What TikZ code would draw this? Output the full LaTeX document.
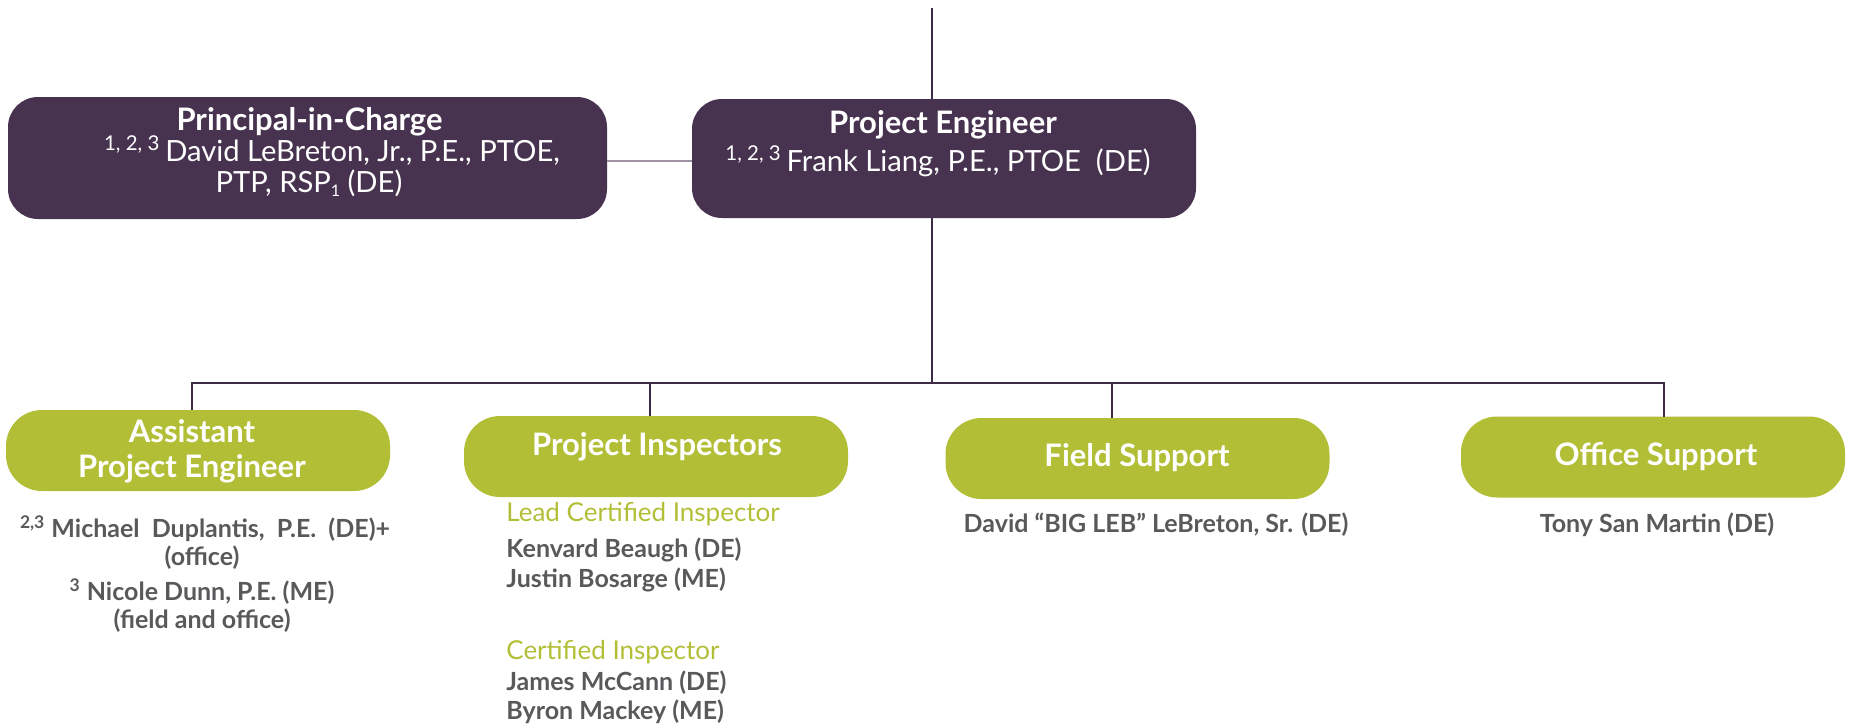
\documentclass[tikz,border=0pt]{standalone}
\usepackage{fontspec}
\setmainfont{Lato}
\usetikzlibrary{calc}

\definecolor{plum}{HTML}{47334F}
\definecolor{wirecol}{HTML}{3E2C46}
\definecolor{linkcol}{HTML}{9E92A4}
\definecolor{leaf}{HTML}{B2BF36}
\definecolor{ink}{HTML}{58595B}

\tikzset{
  headbox/.style={fill=plum, rounded corners=15pt, inner sep=0pt},
  rolebox/.style={fill=leaf, rounded corners=18pt, inner sep=0pt,
    minimum width=192pt, minimum height=40.5pt},
  boxtitle/.style={text=white, anchor=base, inner sep=0pt,
    font=\fontsize{15.5}{18}\selectfont\bfseries},
  boxname/.style={text=white, anchor=base, inner sep=0pt,
    font=\fontsize{14.6}{17}\selectfont},
  staff/.style={text=ink, anchor=base, inner sep=0pt,
    font=\fontsize{12.5}{15}\selectfont\bfseries},
  grade/.style={text=leaf, anchor=base west, inner sep=0pt,
    font=\fontsize{13}{15}\selectfont},
  wire/.style={wirecol, line width=1pt},
}

\begin{document}
\begin{tikzpicture}[x=0.5pt, y=-0.5pt]
\useasboundingbox (0,0) rectangle (1849,728);

% top level boxes
\node[headbox, minimum width=299.5pt, minimum height=61pt] (pic) at (307.5,158) {};
\node[headbox, minimum width=252pt, minimum height=59.5pt] (pe) at (944,158.5) {};

\node[boxtitle] (pic-t) at (309.5,130) {Principal-in-Charge};
\node[boxname] (pic-n1) at (332,161) {\textsuperscript{1, 2, 3}\,David LeBreton, Jr., P.E., PTOE,};
\node[boxname] (pic-n2) at (309,192) {PTP, RSP{\fontsize{8}{9}\selectfont\raisebox{-2pt}{1}} (DE)};

\node[boxtitle] (pe-t) at (943,133) {Project Engineer};
\node[boxname] (pe-n) at (938,171) {\textsuperscript{1, 2, 3}\,Frank Liang, P.E., PTOE\ \ (DE)};

% second level boxes
\node[rolebox] (ape) at (198,450.5) {};
\node[rolebox] (pi) at (656,456.5) {};
\node[rolebox] (fs) at (1137.5,458.5) {};
\node[rolebox] (os) at (1653,457) {};

\node[boxtitle] (ape-t1) at (192,442) {Assistant};
\node[boxtitle] (ape-t2) at (192,477) {Project Engineer};
\node[boxtitle] (pi-t) at (657,455) {Project Inspectors};
\node[boxtitle] (fs-t) at (1137,466) {Field Support};
\node[boxtitle] (os-t) at (1656,465) {Office Support};

% staff
\node[staff] (ape-s1) at (205,537) {\textsuperscript{2,3} Michael\ \ Duplantis,\ \ P.E.\ \ (DE)+};
\node[staff] (ape-s2) at (202,565) {(office)};
\node[staff] (ape-s3) at (202,600) {\textsuperscript{3} Nicole Dunn, P.E. (ME)};
\node[staff] (ape-s4) at (202,628) {(field and office)};

\node[grade] (pi-g1) at (506,521) {Lead Certified Inspector};
\node[staff, anchor=base west] (pi-s1) at (506,557) {Kenvard Beaugh (DE)};
\node[staff, anchor=base west] (pi-s2) at (506,587) {Justin Bosarge (ME)};
\node[grade] (pi-g2) at (506,659) {Certified Inspector};
\node[staff, anchor=base west] (pi-s3) at (506,690) {James McCann (DE)};
\node[staff, anchor=base west] (pi-s4) at (506,719) {Byron Mackey (ME)};

\node[staff] (fs-s) at (1156,532) {David “BIG LEB” LeBreton, Sr. (DE)};
\node[staff] (os-s) at (1657,532) {Tony San Martin (DE)};

% connectors
\coordinate (top) at (932,8);
\coordinate (bus) at (932,383);
\coordinate (ape-in) at (192,410);
\coordinate (pi-in) at (650,416);
\coordinate (fs-in) at (1112,418);
\coordinate (os-in) at (1664,417);

\draw[linkcol, line width=0.75pt] ([yshift=-1.5pt]pic.east) -- ([yshift=-1.25pt]pe.west);
\draw[wire] (top) -- (top |- pe.north);
\draw[wire] (top |- pe.south) -- (bus);
\draw[wire] (ape-in) |- (os-in |- bus) -- (os-in);
\draw[wire] (pi-in) -- (pi-in |- bus);
\draw[wire] (fs-in) -- (fs-in |- bus);

\end{tikzpicture}
\end{document}
